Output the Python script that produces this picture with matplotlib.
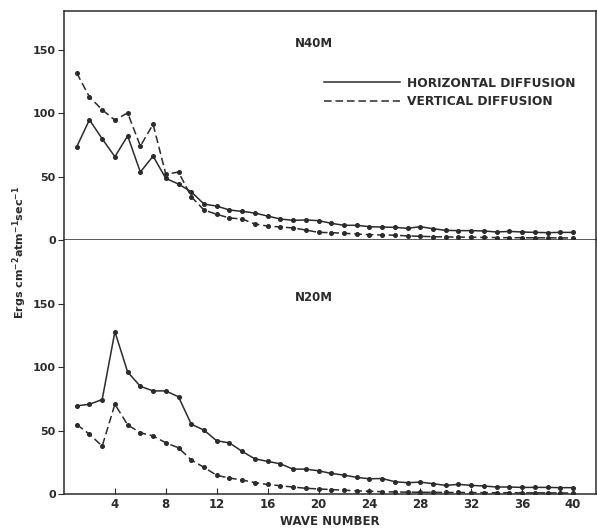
from matplotlib import pyplot as plt
from matplotlib.lines import Line2D
import numpy as np

wave = np.arange(1, 41)

# N40M: energy conversion by wave number
n40_horizontal = [73.7, 95, 80, 65.8, 82.3, 53.7, 66.3, 48.7, 44.2, 38.1,
                  28.4, 26.8, 23.7, 22.6, 21.3, 18.9, 16.6, 15.5, 15.8, 15.3,
                  13.2, 11.6, 11.6, 10.5, 10.2, 10.0, 9.2, 10.5, 8.9, 7.6,
                  7.4, 7.4, 7.1, 6.3, 6.8, 6.3, 6.0, 5.8, 6.0, 6.0]
n40_vertical = [132, 113, 103, 94.7, 100.5, 74.2, 91.5, 52, 53.7, 34.2,
                23.7, 20.3, 17.4, 16.6, 12.6, 11.0, 10.3, 9.5, 7.9, 6.0,
                5.8, 5.3, 4.7, 4.2, 4.0, 3.8, 3.2, 2.9, 2.6, 2.4,
                2.3, 2.2, 2.0, 1.9, 1.8, 1.8, 1.7, 1.7, 1.6, 1.6]

# N20M
n20_horizontal = [69.4, 70.7, 74.4, 127.8, 96.1, 84.8, 81.2, 81.2, 76.5, 55.0,
                  50.3, 41.9, 40.3, 33.5, 27.7, 25.7, 23.8, 19.6, 19.6, 18.3,
                  16.2, 14.9, 13.1, 12.0, 12.2, 9.7, 8.9, 9.4, 8.1, 6.8,
                  7.6, 6.8, 6.3, 5.5, 5.5, 5.2, 5.2, 5.2, 5.0, 5.0]
n20_vertical = [54.7, 47.1, 37.7, 70.7, 54.5, 48.2, 45.8, 40.3, 36.4, 26.8,
                21.0, 14.7, 12.6, 11.0, 9.0, 7.5, 6.5, 5.5, 4.5, 4.0,
                3.5, 3.0, 2.5, 2.2, 1.8, 1.6, 1.5, 1.4, 1.3, 1.2,
                1.2, 1.1, 1.1, 1.0, 1.0, 0.9, 0.9, 0.9, 0.8, 0.8]

yticks = [0, 50, 100, 150]
xticks = np.arange(4, 41, 4)

ink = "#2b2b2b"
plt.rcParams["font.family"] = "DejaVu Sans"
plt.rcParams["font.weight"] = "bold"

fig = plt.figure(figsize=(5.97, 5.30), dpi=100)
ax1 = fig.add_axes([0.1072, 0.5472, 0.891, 0.432])
ax2 = fig.add_axes([0.1072, 0.0679, 0.891, 0.4792])

line_kw = dict(color=ink, linewidth=1.1, marker="o", markersize=2.6)

for ax, horiz, vert, name, ymax, name_y in [
    (ax1, n40_horizontal, n40_vertical, "N40M", 181, 0.856),
    (ax2, n20_horizontal, n20_vertical, "N20M", 200, 0.775),
]:
    ax.plot(wave, horiz, linestyle="-", **line_kw)
    ax.plot(wave, vert, linestyle=(0, (5, 2.5)), **line_kw)
    ax.set_xlim(0, 41.8)
    ax.set_ylim(0, ymax)
    ax.set_yticks(yticks)
    ax.set_xticks(xticks)
    for side in ax.spines.values():
        side.set_color(ink)
        side.set_linewidth(1.1)
    ax.tick_params(axis="y", direction="out", length=4, color=ink,
                   labelsize=8, labelcolor=ink, pad=2)
    ax.tick_params(axis="x", direction="in", length=4, color=ink,
                   labelsize=8.5, labelcolor=ink, pad=3)
    ax.text(0.47, name_y, name, transform=ax.transAxes,
            ha="center", va="center", fontsize=8.5, fontweight="bold", color=ink)

ax1.tick_params(axis="x", bottom=False, labelbottom=False)
ax2.spines["top"].set_visible(False)

handles = [
    Line2D([], [], color=ink, linewidth=1.1, linestyle="-"),
    Line2D([], [], color=ink, linewidth=1.1, linestyle=(0, (5, 2.5))),
]
ax1.legend(handles, ["HORIZONTAL DIFFUSION", "VERTICAL DIFFUSION"],
           loc="upper left", bbox_to_anchor=(0.477, 0.74), frameon=False,
           borderpad=0, handlelength=6.2, handletextpad=0.6, labelspacing=0.45,
           prop={"weight": "bold", "size": 8.8}, labelcolor=ink)

ax2.set_xlabel("WAVE NUMBER", fontsize=8.5, fontweight="bold", color=ink, labelpad=3)
fig.text(0.033, 0.523, r"Ergs cm$^{\mathbf{-2}}$atm$^{\mathbf{-1}}$sec$^{\mathbf{-1}}$",
         rotation=90, ha="center", va="center", fontsize=8,
         fontweight="bold", color=ink)

plt.savefig("out.png", dpi=100)
